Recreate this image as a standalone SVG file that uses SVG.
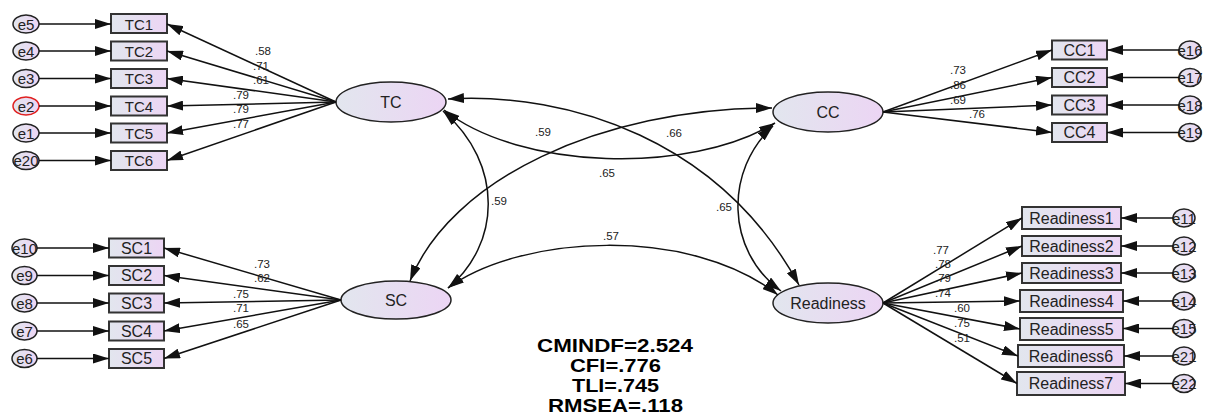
<svg xmlns="http://www.w3.org/2000/svg" width="1209" height="416" viewBox="0 0 1209 416">
<defs>
<linearGradient id="g" x1="0" y1="0" x2="1" y2="0"><stop offset="0" stop-color="#e2e6ee"/><stop offset="1" stop-color="#ecd5f4"/></linearGradient>
<marker id="ah" viewBox="0 0 16 10" markerWidth="16" markerHeight="10" refX="16" refY="5" orient="auto-start-reverse" markerUnits="userSpaceOnUse"><path d="M0,0 L16,5 L0,10 z" fill="#111"/></marker>
</defs>
<style>
.box{fill:url(#g);stroke:#333;stroke-width:2}
.lat{fill:url(#g);stroke:#222;stroke-width:1.5}
.err{fill:url(#g);stroke:#222;stroke-width:1.5}
.red{stroke:#e02020}
.t{font-family:"Liberation Sans",Arial,sans-serif;fill:#222;text-anchor:middle;dominant-baseline:central;font-size:16px}
.et{font-family:"Liberation Sans",Arial,sans-serif;fill:#222;text-anchor:middle;dominant-baseline:central;font-size:15px}
.n{font-family:"Liberation Sans",Arial,sans-serif;fill:#222;font-size:11.5px}
.s{font-family:"Liberation Sans",Arial,sans-serif;fill:#000;font-size:17.5px;font-weight:bold;text-anchor:middle}
.ln{stroke:#111;stroke-width:1.5;fill:none;marker-end:url(#ah)}
.cv{stroke:#111;stroke-width:1.5;fill:none;marker-start:url(#ah);marker-end:url(#ah)}
</style>
<rect width="1209" height="416" fill="#fff"/>

<g id="TC"><ellipse class="lat" cx="391" cy="102" rx="55" ry="20"/><text class="t" x="391" y="102">TC</text></g>
<g id="CC"><ellipse class="lat" cx="828" cy="112" rx="55" ry="20"/><text class="t" x="828" y="112">CC</text></g>
<g id="SC"><ellipse class="lat" cx="396" cy="300" rx="55" ry="19"/><text class="t" x="396" y="300">SC</text></g>
<g id="Readiness"><ellipse class="lat" cx="828" cy="303" rx="55" ry="20"/><text class="t" x="828" y="303">Readiness</text></g>

<g id="TC1"><rect class="box" x="111" y="14" width="56" height="19"/><text class="t" x="139" y="24" style="font-size:15px">TC1</text></g>
<g id="TC2"><rect class="box" x="111" y="41.5" width="56" height="19"/><text class="t" x="139" y="51" style="font-size:15px">TC2</text></g>
<g id="TC3"><rect class="box" x="111" y="69" width="56" height="19"/><text class="t" x="139" y="78.5" style="font-size:15px">TC3</text></g>
<g id="TC4"><rect class="box" x="111" y="96.5" width="56" height="19"/><text class="t" x="139" y="106" style="font-size:15px">TC4</text></g>
<g id="TC5"><rect class="box" x="111" y="123.5" width="56" height="19"/><text class="t" x="139" y="133" style="font-size:15px">TC5</text></g>
<g id="TC6"><rect class="box" x="111" y="151" width="56" height="19"/><text class="t" x="139" y="160.5" style="font-size:15px">TC6</text></g>

<g id="e5"><ellipse class="err" cx="26" cy="24" rx="13" ry="9"/><text class="et" x="26" y="24">e5</text></g>
<g id="e4"><ellipse class="err" cx="26" cy="51" rx="13" ry="9"/><text class="et" x="26" y="51">e4</text></g>
<g id="e3"><ellipse class="err" cx="26" cy="78.5" rx="13" ry="9"/><text class="et" x="26" y="78.5">e3</text></g>
<g id="e2"><ellipse class="err red" cx="26" cy="106" rx="13" ry="9"/><text class="et" x="26" y="106">e2</text></g>
<g id="e1"><ellipse class="err" cx="26" cy="133" rx="13" ry="9"/><text class="et" x="26" y="133">e1</text></g>
<g id="e20"><ellipse class="err" cx="26" cy="160.5" rx="13" ry="9"/><text class="et" x="26" y="160.5">e20</text></g>

<g id="SC1"><rect class="box" x="109" y="238.5" width="55" height="19"/><text class="t" x="136.5" y="248">SC1</text></g>
<g id="SC2"><rect class="box" x="109" y="266" width="55" height="19"/><text class="t" x="136.5" y="275.5">SC2</text></g>
<g id="SC3"><rect class="box" x="109" y="293.5" width="55" height="19"/><text class="t" x="136.5" y="303">SC3</text></g>
<g id="SC4"><rect class="box" x="109" y="321.5" width="55" height="19"/><text class="t" x="136.5" y="331">SC4</text></g>
<g id="SC5"><rect class="box" x="109" y="349" width="55" height="19"/><text class="t" x="136.5" y="358.5">SC5</text></g>

<g id="e10"><ellipse class="err" cx="24.5" cy="248" rx="12.5" ry="9"/><text class="et" x="24.5" y="248">e10</text></g>
<g id="e9"><ellipse class="err" cx="24.5" cy="275.5" rx="12.5" ry="9"/><text class="et" x="24.5" y="275.5">e9</text></g>
<g id="e8"><ellipse class="err" cx="24.5" cy="303" rx="12.5" ry="9"/><text class="et" x="24.5" y="303">e8</text></g>
<g id="e7"><ellipse class="err" cx="24.5" cy="331" rx="12.5" ry="9"/><text class="et" x="24.5" y="331">e7</text></g>
<g id="e6"><ellipse class="err" cx="24.5" cy="358.5" rx="12.5" ry="9"/><text class="et" x="24.5" y="358.5">e6</text></g>

<g id="CC1"><rect class="box" x="1052" y="40.5" width="55" height="19"/><text class="t" x="1079.5" y="50">CC1</text></g>
<g id="CC2"><rect class="box" x="1052" y="68" width="55" height="19"/><text class="t" x="1079.5" y="77.5">CC2</text></g>
<g id="CC3"><rect class="box" x="1052" y="95.5" width="55" height="19"/><text class="t" x="1079.5" y="105">CC3</text></g>
<g id="CC4"><rect class="box" x="1052" y="123" width="55" height="19"/><text class="t" x="1079.5" y="132.5">CC4</text></g>

<g id="e16"><ellipse class="err" cx="1190" cy="50" rx="11" ry="9"/><text class="et" x="1190" y="50">e16</text></g>
<g id="e17"><ellipse class="err" cx="1190" cy="77.5" rx="11" ry="9"/><text class="et" x="1190" y="77.5">e17</text></g>
<g id="e18"><ellipse class="err" cx="1190" cy="105" rx="11" ry="9"/><text class="et" x="1190" y="105">e18</text></g>
<g id="e19"><ellipse class="err" cx="1190" cy="132.5" rx="11" ry="9"/><text class="et" x="1190" y="132.5">e19</text></g>

<g id="Readiness1"><rect class="box" x="1022" y="207" width="99" height="22"/><text class="t" x="1071.5" y="218">Readiness1</text></g>
<g id="Readiness2"><rect class="box" x="1022" y="236" width="99" height="20"/><text class="t" x="1071.5" y="246">Readiness2</text></g>
<g id="Readiness3"><rect class="box" x="1022" y="263" width="99" height="20"/><text class="t" x="1071.5" y="273">Readiness3</text></g>
<g id="Readiness4"><rect class="box" x="1020" y="290" width="103" height="22"/><text class="t" x="1071.5" y="301">Readiness4</text></g>
<g id="Readiness5"><rect class="box" x="1020" y="318" width="103" height="22"/><text class="t" x="1071.5" y="329">Readiness5</text></g>
<g id="Readiness6"><rect class="box" x="1018" y="345" width="106" height="22"/><text class="t" x="1071" y="356">Readiness6</text></g>
<g id="Readiness7"><rect class="box" x="1017" y="372" width="108" height="23"/><text class="t" x="1071" y="383.5">Readiness7</text></g>

<g id="e11"><ellipse class="err" cx="1184" cy="218" rx="11" ry="9"/><text class="et" x="1184" y="218">e11</text></g>
<g id="e12"><ellipse class="err" cx="1184" cy="246" rx="11" ry="9"/><text class="et" x="1184" y="246">e12</text></g>
<g id="e13"><ellipse class="err" cx="1184" cy="273" rx="11" ry="9"/><text class="et" x="1184" y="273">e13</text></g>
<g id="e14"><ellipse class="err" cx="1184" cy="301" rx="11" ry="9"/><text class="et" x="1184" y="301">e14</text></g>
<g id="e15"><ellipse class="err" cx="1184" cy="328.5" rx="11" ry="9"/><text class="et" x="1184" y="328.5">e15</text></g>
<g id="e21"><ellipse class="err" cx="1184" cy="356" rx="11" ry="9"/><text class="et" x="1184" y="356">e21</text></g>
<g id="e22"><ellipse class="err" cx="1184" cy="383.5" rx="11" ry="9"/><text class="et" x="1184" y="383.5">e22</text></g>

<g id="connectors">
<line class="ln" x1="39" y1="24" x2="111" y2="24"/>
<line class="ln" x1="39" y1="51" x2="111" y2="51"/>
<line class="ln" x1="39" y1="78.5" x2="111" y2="78.5"/>
<line class="ln" x1="39" y1="106" x2="111" y2="106"/>
<line class="ln" x1="39" y1="133" x2="111" y2="133"/>
<line class="ln" x1="39" y1="160.5" x2="111" y2="160.5"/>
<line class="ln" x1="336" y1="102" x2="167" y2="24"/>
<line class="ln" x1="336" y1="102" x2="167" y2="51"/>
<line class="ln" x1="336" y1="102" x2="167" y2="78.5"/>
<line class="ln" x1="336" y1="102" x2="167" y2="106"/>
<line class="ln" x1="336" y1="102" x2="167" y2="133"/>
<line class="ln" x1="336" y1="102" x2="167" y2="160.5"/>

<line class="ln" x1="37" y1="248" x2="109" y2="248"/>
<line class="ln" x1="37" y1="275.5" x2="109" y2="275.5"/>
<line class="ln" x1="37" y1="303" x2="109" y2="303"/>
<line class="ln" x1="37" y1="331" x2="109" y2="331"/>
<line class="ln" x1="37" y1="358.5" x2="109" y2="358.5"/>
<line class="ln" x1="341" y1="300" x2="164" y2="248"/>
<line class="ln" x1="341" y1="300" x2="164" y2="275.5"/>
<line class="ln" x1="341" y1="300" x2="164" y2="303"/>
<line class="ln" x1="341" y1="300" x2="164" y2="331"/>
<line class="ln" x1="341" y1="300" x2="164" y2="358.5"/>

<line class="ln" x1="1179" y1="50" x2="1107" y2="50"/>
<line class="ln" x1="1179" y1="77.5" x2="1107" y2="77.5"/>
<line class="ln" x1="1179" y1="105" x2="1107" y2="105"/>
<line class="ln" x1="1179" y1="132.5" x2="1107" y2="132.5"/>
<line class="ln" x1="883" y1="112" x2="1052" y2="50"/>
<line class="ln" x1="883" y1="112" x2="1052" y2="77.5"/>
<line class="ln" x1="883" y1="112" x2="1052" y2="105"/>
<line class="ln" x1="883" y1="112" x2="1052" y2="132.5"/>

<line class="ln" x1="1173" y1="218" x2="1121" y2="218"/>
<line class="ln" x1="1173" y1="246" x2="1121" y2="246"/>
<line class="ln" x1="1173" y1="273" x2="1121" y2="273"/>
<line class="ln" x1="1173" y1="301" x2="1123" y2="301"/>
<line class="ln" x1="1173" y1="328.5" x2="1123" y2="328.5"/>
<line class="ln" x1="1173" y1="356" x2="1124" y2="356"/>
<line class="ln" x1="1173" y1="383.5" x2="1125" y2="383.5"/>
<line class="ln" x1="883" y1="303" x2="1022" y2="218"/>
<line class="ln" x1="883" y1="303" x2="1022" y2="246"/>
<line class="ln" x1="883" y1="303" x2="1022" y2="273"/>
<line class="ln" x1="883" y1="303" x2="1020" y2="301"/>
<line class="ln" x1="883" y1="303" x2="1020" y2="329"/>
<line class="ln" x1="883" y1="303" x2="1018" y2="356"/>
<line class="ln" x1="883" y1="303" x2="1017" y2="383.5"/>

<path class="cv" d="M448,99 C570,92 720,140 799,285"/>
<path class="cv" d="M444,110 C520,170 690,175 775,123"/>
<path class="cv" d="M410,281 C450,180 600,108 772,108"/>
<path class="cv" d="M773,126 C725,170 725,250 781,291"/>
<path class="cv" d="M448,288 C520,235 690,225 778,295"/>
<path class="cv" d="M443,111 C505,165 500,245 448,288"/>
</g>

<g id="labels">
<text class="n" x="255" y="55">.58</text>
<text class="n" x="253" y="70">.71</text>
<text class="n" x="253" y="84">.61</text>
<text class="n" x="233" y="99">.79</text>
<text class="n" x="233" y="113">.79</text>
<text class="n" x="233" y="128">.77</text>
<text class="n" x="950" y="74">.73</text>
<text class="n" x="950" y="89">.86</text>
<text class="n" x="950" y="104">.69</text>
<text class="n" x="969" y="118">.76</text>
<text class="n" x="254" y="268">.73</text>
<text class="n" x="254" y="282">.62</text>
<text class="n" x="233" y="298">.75</text>
<text class="n" x="233" y="312">.71</text>
<text class="n" x="233" y="328">.65</text>
<text class="n" x="933" y="254">.77</text>
<text class="n" x="935" y="268">.78</text>
<text class="n" x="935" y="282">.79</text>
<text class="n" x="935" y="297">.74</text>
<text class="n" x="954" y="312">.60</text>
<text class="n" x="954" y="327">.75</text>
<text class="n" x="954" y="342">.51</text>
<text class="n" x="535" y="136">.59</text>
<text class="n" x="666" y="137">.66</text>
<text class="n" x="599" y="177">.65</text>
<text class="n" x="491" y="205">.59</text>
<text class="n" x="716" y="211">.65</text>
<text class="n" x="603" y="240">.57</text>
</g>

<g id="fit">
<text class="s" x="615" y="352" textLength="156" lengthAdjust="spacingAndGlyphs">CMINDF=2.524</text>
<text class="s" x="615.5" y="372" textLength="91" lengthAdjust="spacingAndGlyphs">CFI=.776</text>
<text class="s" x="615.5" y="392" textLength="87" lengthAdjust="spacingAndGlyphs">TLI=.745</text>
<text class="s" x="615.5" y="412" textLength="135" lengthAdjust="spacingAndGlyphs">RMSEA=.118</text>
</g>
</svg>
